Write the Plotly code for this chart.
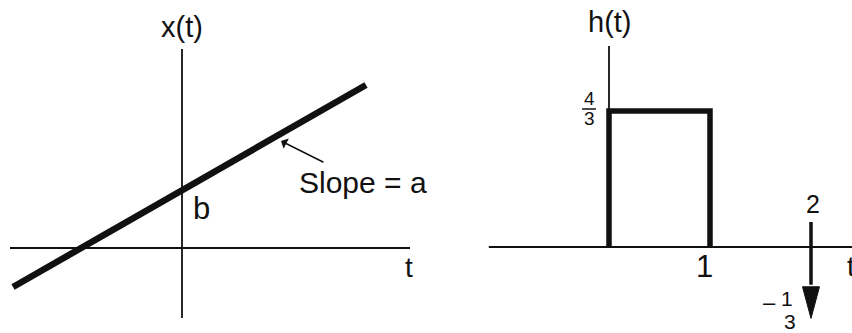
import plotly.graph_objects as go

# ---------------- data ----------------
# left panel: x(t) = a t + b (straight line, two end points)
line_t = [-1.69, 1.84]
line_x = [-0.39, 1.63]
left_haxis_t = [-1.72, 2.28]
left_vaxis_v = [-0.70, 1.99]

# right panel: h(t) rectangular pulse of height 4/3 on [0, 1], impulse -1/3 at t = 2
pulse_t = [0, 0, 1, 1]
pulse_h = [0, 4 / 3, 4 / 3, 0]
right_haxis_t = [-1.19, 2.45]
right_vaxis_h = [0, 1.97]
impulse_t = 2
impulse_area = -1 / 3
impulse_top = 0.245     # drawn extent of the impulse arrow (symbolic)
impulse_tip = -0.70
impulse_head_base = -0.39

FONT = "Liberation Sans, Arial, Helvetica, sans-serif"
BLACK = "#111111"

fig = go.Figure()

# ---- left panel ----
fig.add_trace(go.Scatter(x=left_haxis_t, y=[0, 0], mode="lines",
                         line=dict(color=BLACK, width=1.8), xaxis="x", yaxis="y",
                         hoverinfo="skip"))
fig.add_trace(go.Scatter(x=[0, 0], y=left_vaxis_v, mode="lines",
                         line=dict(color=BLACK, width=1.8), xaxis="x", yaxis="y",
                         hoverinfo="skip"))
fig.add_trace(go.Scatter(x=line_t, y=line_x, mode="lines",
                         line=dict(color=BLACK, width=6.5), xaxis="x", yaxis="y"))

# ---- right panel ----
fig.add_trace(go.Scatter(x=right_haxis_t, y=[0, 0], mode="lines",
                         line=dict(color=BLACK, width=1.8), xaxis="x2", yaxis="y2",
                         hoverinfo="skip"))
fig.add_trace(go.Scatter(x=[0, 0], y=right_vaxis_h, mode="lines",
                         line=dict(color=BLACK, width=1.8), xaxis="x2", yaxis="y2",
                         hoverinfo="skip"))
fig.add_trace(go.Scatter(x=pulse_t, y=pulse_h, mode="lines",
                         line=dict(color=BLACK, width=5.5), xaxis="x2", yaxis="y2"))
# impulse shaft
fig.add_trace(go.Scatter(x=[impulse_t, impulse_t], y=[impulse_top, impulse_head_base + 0.02],
                         mode="lines", line=dict(color=BLACK, width=3.5),
                         xaxis="x2", yaxis="y2"))
# impulse arrow head (filled triangle)
hw = 0.084
fig.add_trace(go.Scatter(x=[impulse_t - hw, impulse_t + hw, impulse_t, impulse_t - hw],
                         y=[impulse_head_base, impulse_head_base, impulse_tip, impulse_head_base],
                         mode="lines", fill="toself", fillcolor=BLACK,
                         line=dict(color=BLACK, width=1), xaxis="x2", yaxis="y2"))

ann = []


def label(text, x, y, ref, size, **kw):
    d = dict(text=text, x=x, y=y, xref="x" if ref == 1 else "x2",
             yref="y" if ref == 1 else "y2", showarrow=False,
             font=dict(family=FONT, size=size, color=BLACK))
    d.update(kw)
    ann.append(d)


# left labels
label("x(t)", 0.0, 2.21, 1, 29)
label("b", 0.19, 0.40, 1, 31)
label("t", 2.27, -0.19, 1, 28)
label("Slope = a", 1.15, 0.655, 1, 30, xanchor="left")
ann.append(dict(x=0.99, y=1.07, ax=1.43, ay=0.85, xref="x", yref="y",
                axref="x", ayref="y", showarrow=True, arrowhead=1,
                arrowsize=1.3, arrowwidth=1.5, arrowcolor=BLACK, text=""))

# right labels
label("h(t)", 0.01, 2.206, 2, 29)
label("4", -0.198, 1.46, 2, 19)
label("3", -0.198, 1.26, 2, 19)
label("1", 0.95, -0.19, 2, 31)
label(str(impulse_t), 2.02, 0.426, 2, 25)
label("\u2013", 1.589, -0.54, 2, 22)
label("1", 1.762, -0.50, 2, 21)
label("3", 1.792, -0.735, 2, 21)
label("t", 2.335, -0.19, 2, 28, xanchor="left")

fig.update_layout(
    width=852, height=333,
    margin=dict(l=0, r=0, t=0, b=0),
    paper_bgcolor="white", plot_bgcolor="white",
    showlegend=False,
    xaxis=dict(domain=[0, 0.5], range=[-1.82, 2.44], visible=False),
    yaxis=dict(domain=[0, 1], range=[-0.85, 2.48], visible=False),
    xaxis2=dict(domain=[0.5, 1], range=[-1.812, 2.406], visible=False, anchor="y2"),
    yaxis2=dict(domain=[0, 1], range=[-0.8431, 2.4216], visible=False, anchor="x2"),
    annotations=ann,
    shapes=[dict(type="line", xref="x2", yref="y2", x0=-0.267, x1=-0.129,
                 y0=1.353, y1=1.353, line=dict(color=BLACK, width=1.5))],
)

fig.write_html("out.html", config={"displayModeBar": False},
               post_script="document.body.style.margin='0px';")
